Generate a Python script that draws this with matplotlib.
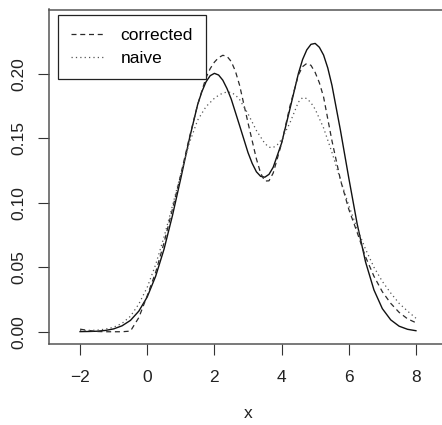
import numpy as np
import matplotlib
matplotlib.use("Agg")
from matplotlib import pyplot as plt

plt.rcParams['font.family'] = ['Liberation Sans', 'DejaVu Sans']

# values; points are denser where the curves bend
x_true = [-2, -1.75, -1.5, -1.25, -1, -0.75, -0.5, -0.25, 0, 0.25, 0.5, 0.75,
          1, 1.25, 1.5, 1.625, 1.75, 1.875, 2, 2.125, 2.25, 2.375, 2.5, 2.75,
          3, 3.125, 3.25, 3.375, 3.5, 3.625, 3.75, 4, 4.25, 4.5, 4.625, 4.75,
          4.875, 5, 5.125, 5.25, 5.375, 5.5, 5.75, 6, 6.25, 6.5, 6.75, 7,
          7.25, 7.5, 7.75, 8]
true_dens = [0.0001, 0.0002, 0.0004, 0.0010, 0.0022, 0.0046, 0.0088, 0.0160,
             0.0270, 0.0430, 0.0640, 0.0900, 0.1190, 0.1490, 0.1760, 0.1860,
             0.1937, 0.1985, 0.2003, 0.1990, 0.1950, 0.1885, 0.1804, 0.1598,
             0.1389, 0.1305, 0.1240, 0.1205, 0.1198, 0.1220, 0.1275, 0.1462,
             0.1729, 0.2001, 0.2110, 0.2185, 0.2228, 0.2235, 0.2205, 0.2145,
             0.2045, 0.1910, 0.1565, 0.1193, 0.0836, 0.0541, 0.0324, 0.0179,
             0.0092, 0.0043, 0.0019, 0.0008]

x_corr = [-2, -1.75, -1.5, -1.25, -1, -0.75, -0.5, -0.25, 0, 0.25, 0.5, 0.75,
          1, 1.25, 1.5, 1.75, 1.875, 2, 2.125, 2.25, 2.375, 2.5, 2.625, 2.75,
          3, 3.25, 3.375, 3.5, 3.625, 3.75, 4, 4.25, 4.5, 4.625, 4.75, 4.875,
          5, 5.125, 5.25, 5.5, 5.75, 6, 6.25, 6.5, 6.75, 7, 7.25, 7.5, 7.75, 8]
corrected = [0.0020, 0.0010, 0.0002, 0.0000, 0.0000, 0.0000, 0.0005, 0.0110,
             0.0280, 0.0460, 0.0690, 0.0950, 0.1220, 0.1500, 0.1760, 0.1970,
             0.2040, 0.2090, 0.2125, 0.2143, 0.2135, 0.2095, 0.2020, 0.1910,
             0.1620, 0.1340, 0.1230, 0.1168, 0.1170, 0.1230, 0.1460, 0.1750,
             0.1990, 0.2055, 0.2080, 0.2065, 0.2010, 0.1930, 0.1820, 0.1480,
             0.1180, 0.0950, 0.0770, 0.0580, 0.0430, 0.0310, 0.0220, 0.0150,
             0.0100, 0.0070]

x_naive = [-2, -1.75, -1.5, -1.25, -1, -0.75, -0.5, -0.25, 0, 0.25, 0.5, 0.75,
           1, 1.25, 1.5, 1.75, 2, 2.125, 2.25, 2.375, 2.5, 2.625, 2.75, 3,
           3.25, 3.5, 3.625, 3.75, 3.875, 4, 4.25, 4.5, 4.625, 4.75, 4.875, 5,
           5.25, 5.5, 5.75, 6, 6.25, 6.5, 6.75, 7, 7.25, 7.5, 7.75, 8]
naive = [0.0010, 0.0010, 0.0012, 0.0020, 0.0035, 0.0065, 0.0120, 0.0215,
         0.0345, 0.0520, 0.0735, 0.0975, 0.1225, 0.1460, 0.1640, 0.1745,
         0.1810, 0.1833, 0.1850, 0.1858, 0.1855, 0.1835, 0.1800, 0.1690,
         0.1560, 0.1460, 0.1430, 0.1428, 0.1450, 0.1490, 0.1620, 0.1780,
         0.1815, 0.1808, 0.1775, 0.1725, 0.1580, 0.1390, 0.1180, 0.0980,
         0.0800, 0.0640, 0.0500, 0.0390, 0.0300, 0.0220, 0.0160, 0.0105]

xticks = [-2, 0, 2, 4, 6, 8]
xtick_labels = ['\u22122', '0', '2', '4', '6', '8']
yticks = [0.00, 0.05, 0.10, 0.15, 0.20]
ytick_labels = ['0.00', '0.05', '0.10', '0.15', '0.20']

fig = plt.figure(figsize=(4.42, 4.25), dpi=100)
ax = fig.add_axes([49/442, (425-344)/425, 398/442, 334.5/425])

ax.plot(x_true, true_dens, color='#111111', lw=1.0, label='_nolegend_')
ax.plot(x_corr, corrected, color='#2a2a2a', lw=0.9, dashes=(4, 3), label='corrected')
ax.plot(x_naive, naive, color='#555555', lw=0.9, dashes=(1, 2.5), label='naive')

ax.set_xlim(-2.925, 8.925)
ax.set_ylim(-0.0095, 0.2498)

fs = 12.5
ax.set_xticks(xticks)
ax.set_xticklabels(xtick_labels)
ax.set_yticks(yticks)
ax.set_yticklabels(ytick_labels, rotation=90, va='center')
ax.tick_params(axis='both', direction='out', length=8, width=0.8,
               color='#333333', labelsize=fs, labelcolor='#222222')
ax.tick_params(axis='x', pad=10.5)
ax.tick_params(axis='y', pad=8)

for s in ax.spines.values():
    s.set_color('#555555')
    s.set_linewidth(1.1)

ax.set_xlabel('x', fontsize=fs, color='#222222', labelpad=15)

leg = ax.legend(loc='upper left', bbox_to_anchor=(9/398, 1 - 5.5/334.5),
                borderaxespad=0, fancybox=False, framealpha=1,
                edgecolor='#222222', fontsize=fs, handlelength=1.85,
                handletextpad=1.0, borderpad=0.75, labelspacing=0.42)
leg.get_frame().set_linewidth(0.9)

fig.savefig('out.png', dpi=100)
